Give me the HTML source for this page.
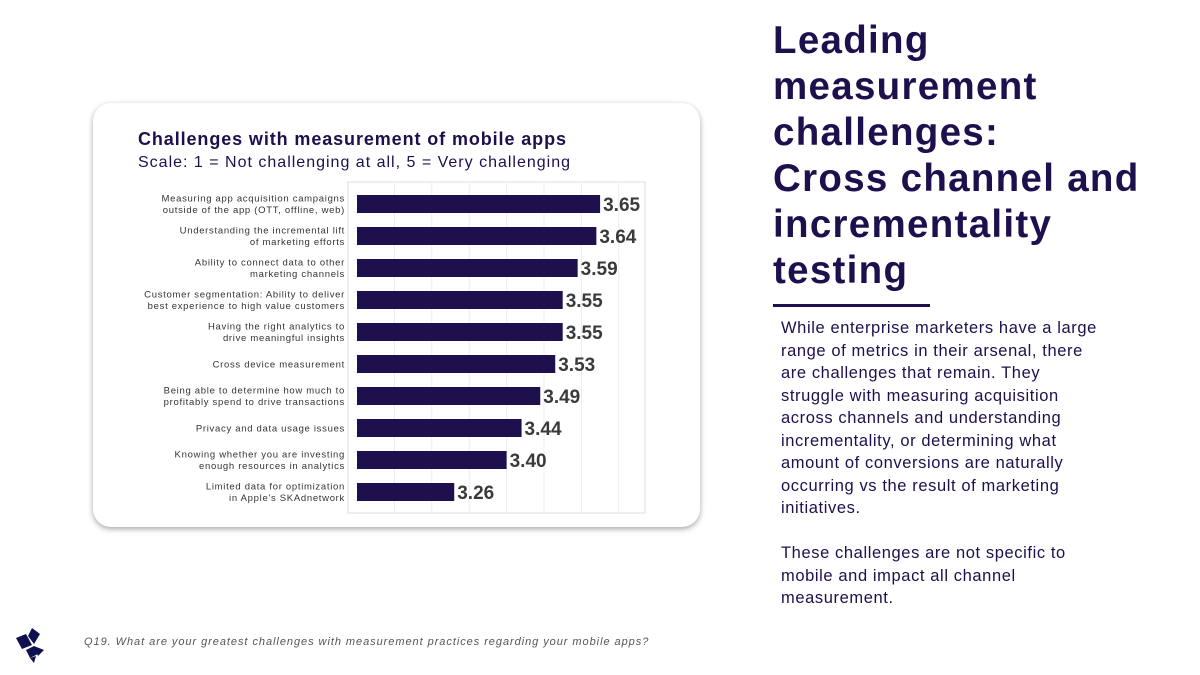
<!DOCTYPE html>
<html><head><meta charset="utf-8"><style>
body{margin:0;width:1200px;height:675px;background:#fff;font-family:"Liberation Sans",sans-serif;position:relative;overflow:hidden}
.card{position:absolute;left:93px;top:103px;width:607px;height:424px;border-radius:18px;background:#fff;box-shadow:0 2px 6px rgba(0,0,0,.35)}
h1{position:absolute;left:773px;top:18px;margin:0;font-size:38.5px;letter-spacing:1.3px;line-height:46px;color:#1e0f4d;font-weight:bold}
.rule{position:absolute;left:773px;top:304px;width:157px;height:3px;background:#1e0f4d}
.body{position:absolute;left:781px;top:317px;white-space:nowrap;font-size:16.5px;letter-spacing:0.6px;line-height:22.5px;color:#1e0f4d}
.foot{position:absolute;left:84px;top:636px;font-size:11px;letter-spacing:0.95px;font-style:italic;color:#555}
</style></head><body>
<div class="card"></div>
<svg id="chart" width="1200" height="675" style="position:absolute;left:0;top:0">
<text x="138" y="145" font-size="18" letter-spacing="0.9" font-weight="bold" fill="#1e0f4d">Challenges with measurement of mobile apps</text>
<text x="138" y="167" font-size="16" letter-spacing="1.0" fill="#1e0f4d">Scale: 1 = Not challenging at all, 5 = Very challenging</text>
<rect x="348" y="182" width="297" height="331" fill="none" stroke="#ddd"/>
<g id="grid"></g><g id="bars"></g>
</svg>
<h1>Leading<br>measurement<br>challenges:<br>Cross channel and<br>incrementality<br>testing</h1>
<div class="rule"></div>
<div class="body">While enterprise marketers have a large<br>range of metrics in their arsenal, there<br>are challenges that remain. They<br>struggle with measuring acquisition<br>across channels and understanding<br>incrementality, or determining what<br>amount of conversions are naturally<br>occurring vs the result of marketing<br>initiatives.<br><br>These challenges are not specific to<br>mobile and impact all channel<br>measurement.</div>
<svg style="position:absolute;left:14px;top:628px" width="34" height="36">
<polygon points="2,10 12,6 18,17 8,21" fill="#0f1050"/><polygon points="18,0 26,6 20,16 14,8" fill="#0f1050"/><polygon points="12,22 20,18 24,26 16,30" fill="#0f1050"/><polygon points="20,18 30,22 24,28" fill="#0f1050"/><polygon points="16,30 22,28 20,35" fill="#0f1050"/>
</svg>
<div class="foot">Q19. What are your greatest challenges with measurement practices regarding your mobile apps?</div>
<script>
const categories=[["Measuring app acquisition campaigns","outside of the app (OTT, offline, web)"],["Understanding the incremental lift","of marketing efforts"],["Ability to connect data to other","marketing channels"],["Customer segmentation: Ability to deliver","best experience to high value customers"],["Having the right analytics to","drive meaningful insights"],["Cross device measurement"],["Being able to determine how much to","profitably spend to drive transactions"],["Privacy and data usage issues"],["Knowing whether you are investing","enough resources in analytics"],["Limited data for optimization","in Apple's SKAdnetwork"]];
const values=[3.65,3.64,3.59,3.55,3.55,3.53,3.49,3.44,3.40,3.26];
const labels=["3.65","3.64","3.59","3.55","3.55","3.53","3.49","3.44","3.40","3.26"];
const gridTicks=[3.1,3.2,3.3,3.4,3.5,3.6,3.7];
const NS="http://www.w3.org/2000/svg";
const x=v=>357+(v-3.0)*374;
const y=i=>204+i*32;
function mk(t,a,p){const e=document.createElementNS(NS,t);for(const k in a)e.setAttribute(k,a[k]);p.appendChild(e);return e;}
const G=document.getElementById('grid'),B=document.getElementById('bars');
gridTicks.forEach(t=>{const l=mk('line',{x1:x(t),x2:x(t),y1:183,y2:512,stroke:'#ececec'},G);

});
values.forEach((v,i)=>{
const r=mk('rect',{x:357,y:y(i)-9,width:x(v)-357,height:18,fill:'#1e0f4d'},B);


const t=mk('text',{x:x(v)+3,y:y(i)+7,'font-size':19,'font-weight':'bold',fill:'#3a3a3a'},B);t.textContent=labels[i];


const c=categories[i];
c.forEach((s,j)=>{const tt=mk('text',{x:345,y:y(i)+(c.length==1?3.5:-2.5+j*11.5),'font-size':9.5,'letter-spacing':0.7,'text-anchor':'end',fill:'#333'},B);tt.textContent=s;

});
});
</script>
</body></html>
